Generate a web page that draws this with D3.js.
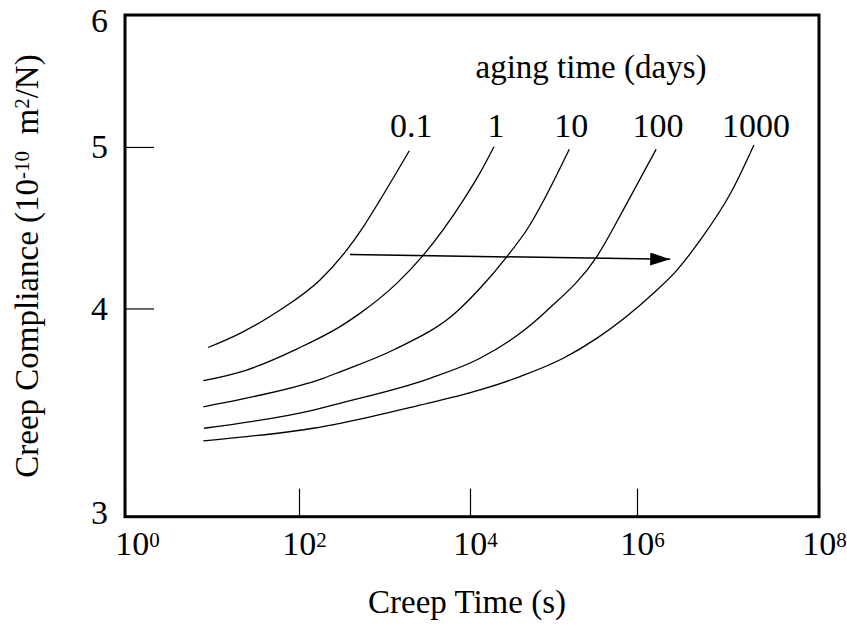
<!DOCTYPE html>
<html><head><meta charset="utf-8">
<script src="https://cdn.jsdelivr.net/npm/d3@7"></script>
<style>
body{margin:0;background:#fff}
svg text{font-family:"Liberation Serif","Times New Roman",serif;fill:#000}
</style>
</head><body>
<svg id="chart" width="847" height="627"></svg>
<script>
// ---- data ----
const agingLabels = ["0.1", "1", "10", "100", "1000"];

const time_0_1 = [9, 21, 60, 176, 361, 565, 885, 1950];
const comp_0_1 = [3.79, 3.865, 3.99, 4.16, 4.336, 4.478, 4.646, 4.974];

const time_1 = [7.94, 25, 94, 302, 516, 1390, 2845, 8360, 13180, 19370];
const comp_1 = [3.62, 3.674, 3.782, 3.901, 3.973, 4.141, 4.306, 4.646, 4.824, 5.002];

const time_10 = [7.94, 29.8, 192, 302, 1268, 6980, 13180, 27540, 47750, 154500];
const comp_10 = [3.492, 3.541, 3.632, 3.665, 3.777, 3.982, 4.113, 4.296, 4.458, 4.984];

const time_100 = [8.09, 147, 302, 3405, 13180, 39720, 83000, 328800, 758600, 1622000];
const comp_100 = [3.39, 3.476, 3.509, 3.632, 3.734, 3.865, 3.988, 4.296, 4.627, 4.984];

const time_1000 = [7.94, 25, 147, 302, 2173, 13180, 39720, 130900, 328800, 1514000, 2748000, 4966000, 10670000, 19280000];
const comp_1000 = [3.331, 3.351, 3.39, 3.413, 3.492, 3.574, 3.641, 3.734, 3.838, 4.085, 4.218, 4.397, 4.69, 5.014];

const arrowTime = [394, 2317000];
const arrowComp = [4.31, 4.281];

const xTickValues = [1, 1e2, 1e4, 1e6, 1e8];
const xTickExponents = ["0", "2", "4", "6", "8"];
const yTickValues = [3, 4, 5, 6];

const xTitle = "Creep Time (s)";
const legendTitle = "aging time (days)";

// ---- layout ----
const svg = d3.select("#chart");
const mLeft = 125, mRight = 819, mTop = 15, mBottom = 516.7;
const FS = 33, FT = 34, FSUP = 21;

const x = d3.scaleLog()
  .domain(xTickValues)
  .range([mLeft, 299, 470, 637, mRight]);
const y = d3.scaleLog().domain([3, 6]).range([mBottom, mTop]);

const series = [
  {t: time_0_1, c: comp_0_1},
  {t: time_1, c: comp_1},
  {t: time_10, c: comp_10},
  {t: time_100, c: comp_100},
  {t: time_1000, c: comp_1000}
];

// x axis (inward ticks)
const gx = svg.append("g").attr("transform", `translate(0,${mBottom})`)
  .call(d3.axisBottom(x).tickValues(xTickValues).tickSize(-28).tickFormat(() => "10"));
gx.select(".domain").remove();
gx.selectAll(".tick line").attr("stroke", "#000").attr("stroke-width", 1.2);
gx.selectAll(".tick text")
  .attr("y", 38).attr("dy", 0)
  .attr("x", (d, i) => i === 0 ? 12 : 5)
  .attr("font-size", FT)
  .attr("font-family", "Liberation Serif")
  .each(function(d, i) {
    d3.select(this).append("tspan").attr("font-size", FSUP).attr("dy", -8).text(xTickExponents[i]);
  });

// y axis (inward ticks)
const gy = svg.append("g").attr("transform", `translate(${mLeft},0)`)
  .call(d3.axisLeft(y).tickValues(yTickValues).tickSize(-29).tickPadding(17).tickFormat(d3.format("d")));
gy.select(".domain").remove();
gy.selectAll(".tick line").attr("stroke", "#000").attr("stroke-width", 1.2);
gy.selectAll(".tick text")
  .attr("font-size", FT).attr("font-family", "Liberation Serif")
  .attr("dy", 0)
  .attr("y", d => d === 6 ? 16 : (d === 3 ? 7 : 11));

// frame
svg.append("rect")
  .attr("x", mLeft).attr("y", mTop)
  .attr("width", mRight - mLeft).attr("height", mBottom - mTop)
  .attr("fill", "none").attr("stroke", "#000").attr("stroke-width", 3);

// curves
const line = d3.line().x(d => x(d[0])).y(d => y(d[1])).curve(d3.curveMonotoneX);
series.forEach(s => {
  const pts = s.t.map((t, i) => [t, s.c[i]]);
  svg.append("path").attr("d", line(pts))
    .attr("fill", "none").attr("stroke", "#000").attr("stroke-width", 1.3);
});

// curve labels
series.forEach((s, i) => {
  const n = s.t.length - 1;
  svg.append("text")
    .attr("x", x(s.t[n]) + 2)
    .attr("y", 137)
    .attr("text-anchor", "middle")
    .attr("font-size", FT)
    .text(agingLabels[i]);
});

// legend title
svg.append("text").attr("x", 591).attr("y", 78)
  .attr("text-anchor", "middle").attr("font-size", FS).text(legendTitle);

// arrow
const defs = svg.append("defs");
defs.append("marker").attr("id", "ah")
  .attr("markerUnits", "userSpaceOnUse")
  .attr("markerWidth", 22).attr("markerHeight", 14)
  .attr("refX", 20).attr("refY", 6.5).attr("orient", "auto")
  .append("path").attr("d", "M0,0 L20,6.5 L0,13 Z").attr("fill", "#000");
svg.append("path")
  .attr("d", d3.line()(arrowTime.map((t, i) => [x(t), y(arrowComp[i])])))
  .attr("stroke", "#000").attr("stroke-width", 1.5).attr("fill", "none")
  .attr("marker-end", "url(#ah)");

// axis titles
svg.append("text").attr("x", 467).attr("y", 613)
  .attr("text-anchor", "middle").attr("font-size", FS).text(xTitle);

const yt = svg.append("text")
  .attr("transform", "translate(38,266) rotate(-90)")
  .attr("text-anchor", "middle").attr("font-size", FS);
yt.append("tspan").text("Creep Compliance (10");
yt.append("tspan").attr("font-size", FSUP).attr("dy", -9).text("-10");
yt.append("tspan").attr("dy", 9).text("\u00a0 m");
yt.append("tspan").attr("font-size", FSUP).attr("dy", -9).text("2");
yt.append("tspan").attr("dy", 9).text("/N)");
</script>
</body></html>
